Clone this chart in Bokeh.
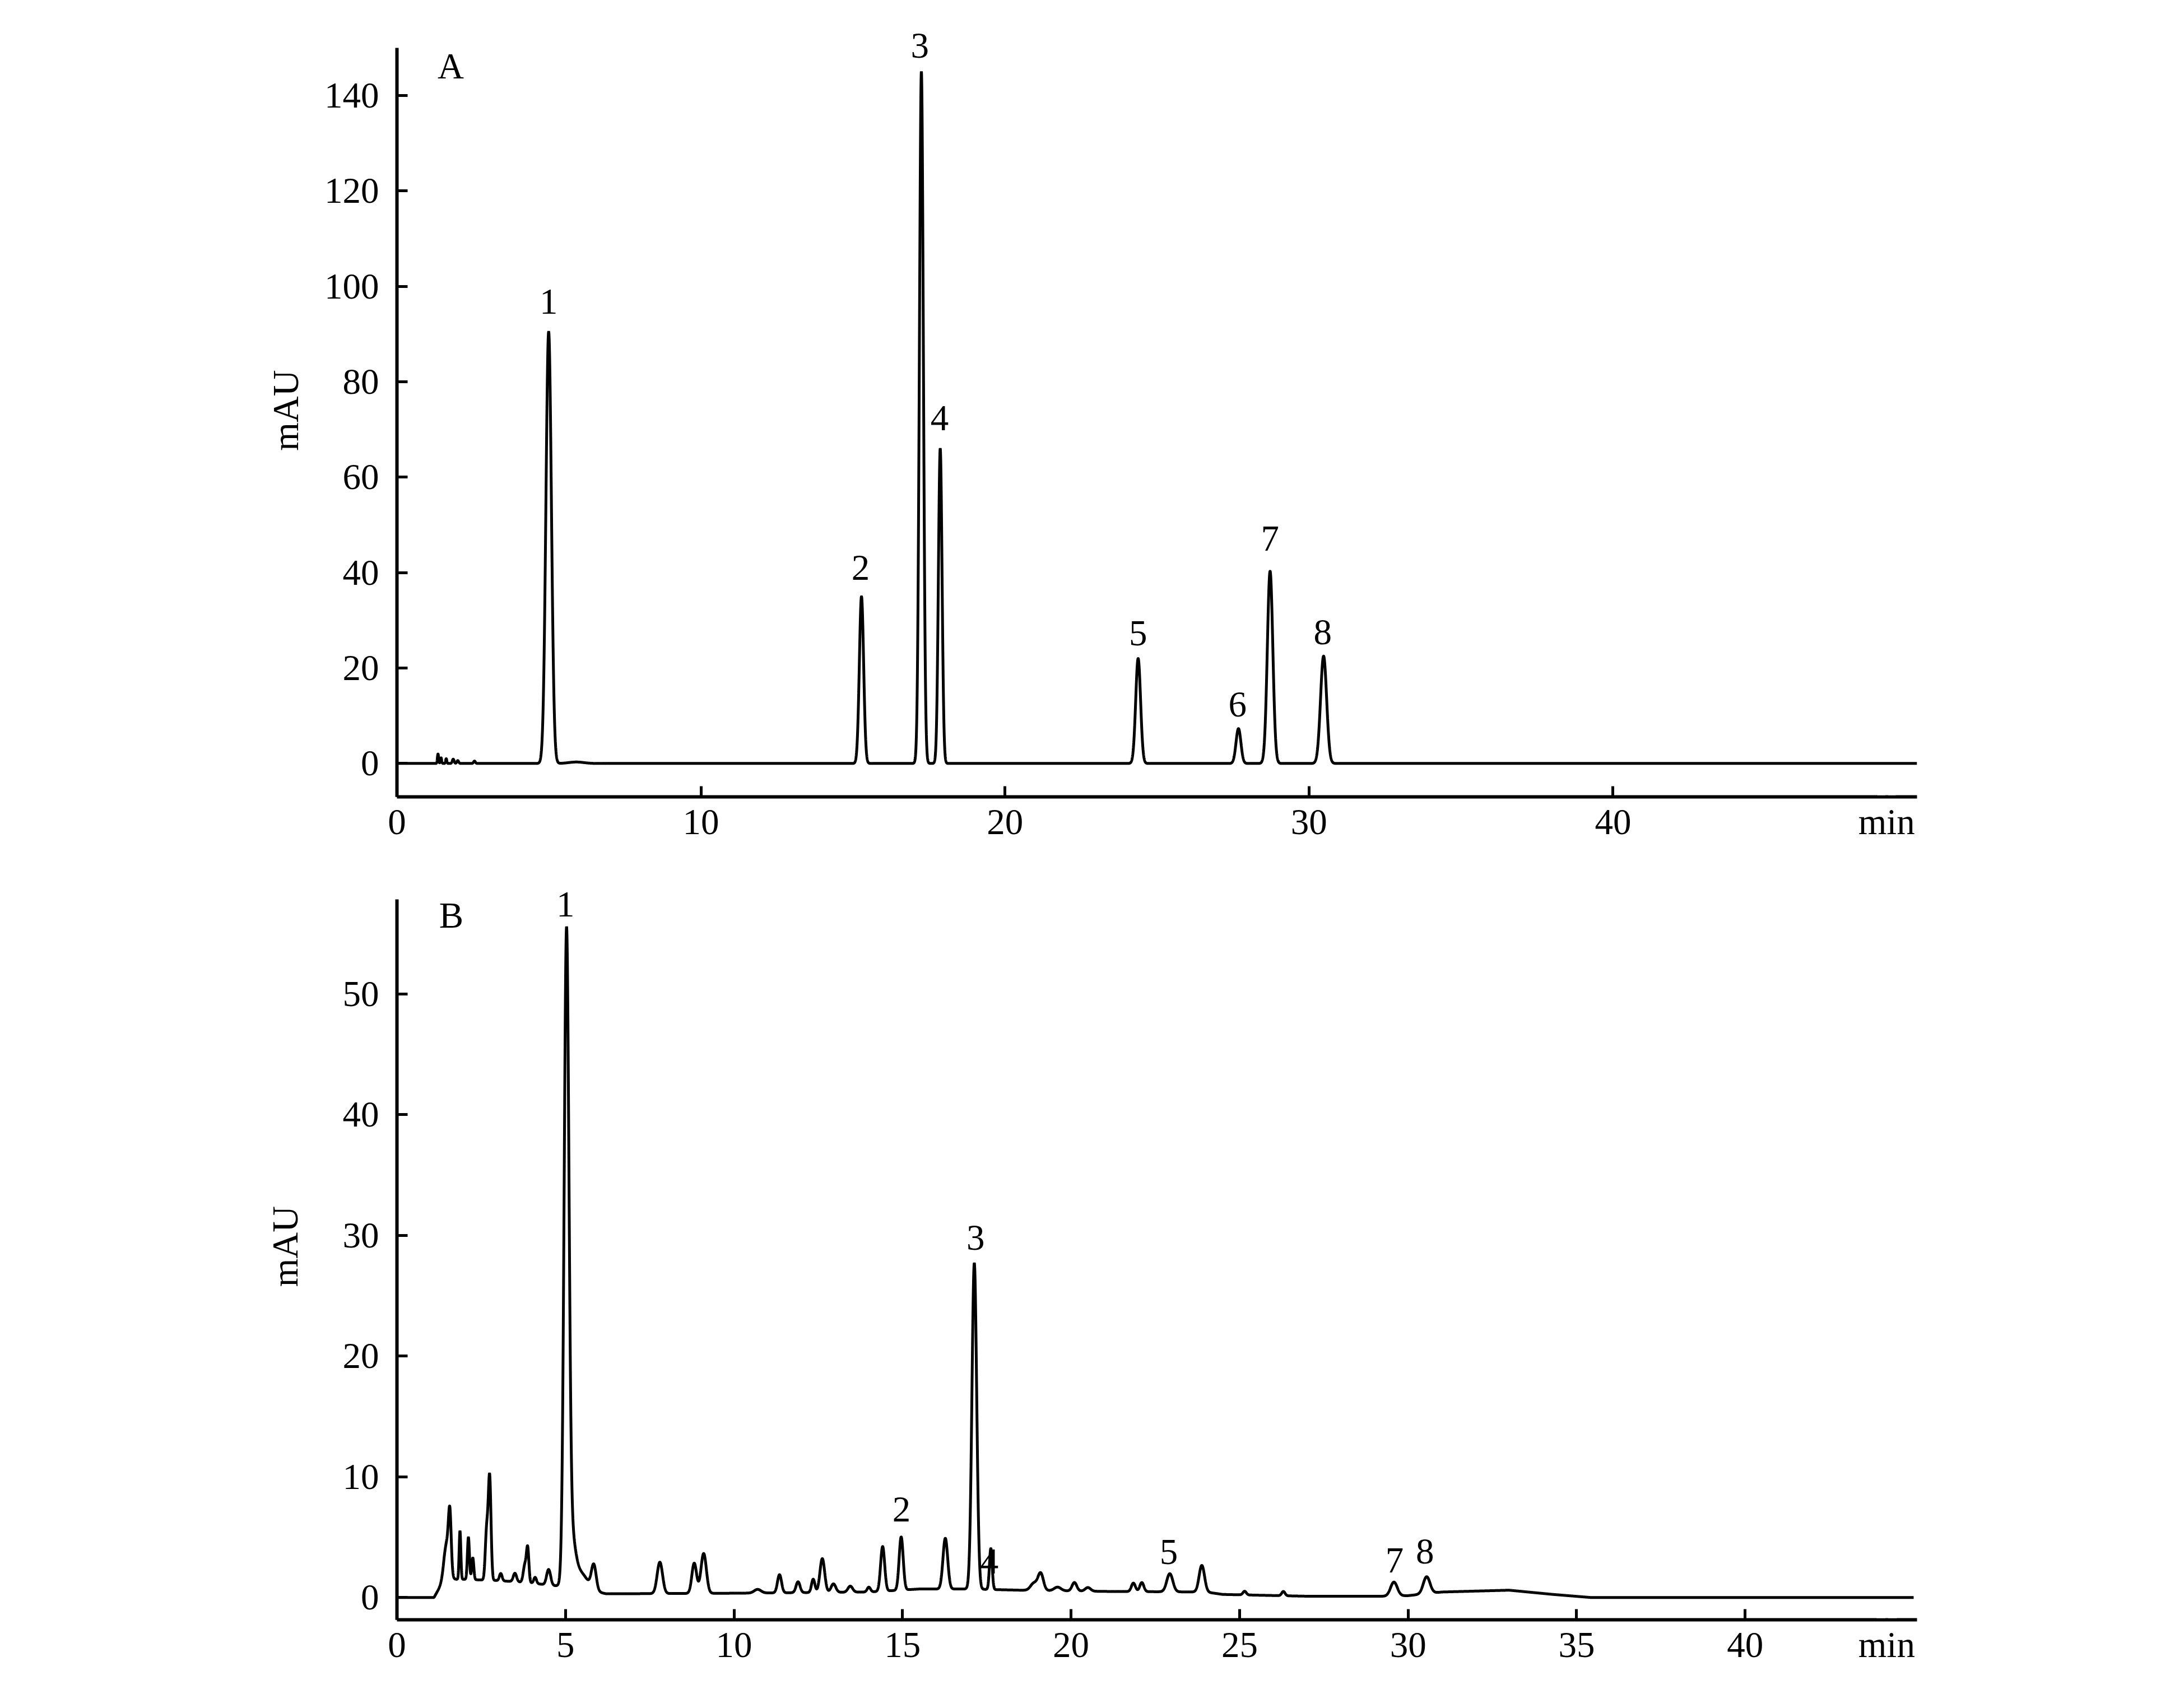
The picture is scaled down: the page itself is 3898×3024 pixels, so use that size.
import numpy as np
from bokeh.plotting import figure
from bokeh.models import Range1d, FixedTicker, Label, LabelSet, ColumnDataSource, BoxAnnotation
from bokeh.layouts import column
from bokeh.embed import file_html
from bokeh.resources import INLINE
from bokeh.core.properties import value

# ---------------- Data ----------------
# Panel A (standard mixture): peak retention time (min), height (mAU), width sigma (min)
A_peak_time   = [1.35, 1.45, 1.62, 1.85, 2.00, 2.55, 4.99, 5.90, 15.28, 17.25, 17.87, 24.38, 27.68, 28.72, 30.48]
A_peak_height = [2.0,  1.2,  1.0,  0.9,  0.6,  0.5,  90.5, 0.30, 35.0,  145.0, 66.0,  22.0,  7.3,   40.3,  22.5]
A_peak_sigma  = [0.02, 0.02, 0.02, 0.03, 0.03, 0.03, 0.09, 0.25, 0.07,  0.065, 0.06,  0.08,  0.08,  0.09,  0.10]

A_label_text = ["1", "2", "3", "4", "5", "6", "7", "8"]
A_label_time = [4.99, 15.25, 17.2, 17.85, 24.38, 27.65, 28.72, 30.45]
A_label_mau  = [94.3, 38.5, 147.9, 69.8, 24.8, 9.9, 44.6, 25.0]

A_xticks = [0, 10, 20, 30, 40]
A_yticks = [0, 20, 40, 60, 80, 100, 120, 140]
A_unit_pos = 49.0      # where the "min" unit label sits on the time axis

# Panel B (sample): baseline knots and peaks
B_base_time = [0, 1.1, 1.4, 2.0, 3.0, 4.0, 4.8, 6.2, 10.0, 14.0, 15.5, 17.0, 18.5, 21.0, 24.0, 24.5, 27.0, 29.3, 30.0, 31.0, 33.0, 34.3, 35.4, 45.0]
B_base_mau  = [0, 0.0, 1.5, 1.5, 1.4, 1.2, 0.9, 0.3, 0.35, 0.45, 0.7, 0.7, 0.6, 0.5, 0.45, 0.25, 0.1, 0.1, 0.15, 0.45, 0.6, 0.25, 0.0, 0.0]

B_peak_time   = [1.48, 1.57, 1.87, 2.12, 2.25, 2.66, 2.75, 3.08, 3.50, 3.80, 3.88, 4.10, 4.50,
                 5.03, 5.15, 5.40, 5.84, 7.80, 8.82, 9.10, 10.7, 11.35, 11.9, 12.35, 12.62, 12.95,
                 13.45, 14.0, 14.41, 14.96, 16.27, 17.13, 17.62, 18.9, 19.1, 19.6, 20.1, 20.5,
                 21.85, 22.1, 22.93, 23.88, 25.15, 26.3, 29.58, 30.55]
B_peak_height = [3.0, 4.4, 4.0, 3.5, 1.8, 4.0, 8.5, 0.6, 0.7, 1.5, 2.6, 0.5, 1.3,
                 51.8, 4.0, 1.5, 2.0, 2.6, 2.5, 3.3, 0.3, 1.5, 0.9, 1.1, 2.8, 0.7,
                 0.5, 0.4, 3.7, 4.4, 4.2, 27.0, 3.4, 0.6, 1.4, 0.3, 0.7, 0.3,
                 0.7, 0.75, 1.5, 2.2, 0.3, 0.35, 1.15, 1.4]
B_peak_sigma  = [0.08, 0.04, 0.025, 0.03, 0.03, 0.04, 0.04, 0.04, 0.05, 0.05, 0.035, 0.04, 0.06,
                 0.07, 0.12, 0.25, 0.07, 0.08, 0.07, 0.08, 0.10, 0.06, 0.06, 0.05, 0.07, 0.07,
                 0.07, 0.05, 0.06, 0.06, 0.07, 0.07, 0.04, 0.10, 0.08, 0.10, 0.07, 0.08,
                 0.06, 0.06, 0.09, 0.08, 0.05, 0.05, 0.10, 0.10]

B_label_text = ["1", "2", "3", "4", "5", "7", "8"]
B_label_time = [5.0, 14.97, 17.17, 17.58, 22.9, 29.6, 30.5]
B_label_mau  = [56.4, 6.3, 28.8, 1.96, 2.76, 2.07, 2.83]

B_xticks = [0, 5, 10, 15, 20, 25, 30, 35, 40]
B_yticks = [0, 10, 20, 30, 40, 50]
B_unit_pos = 44.2

FONT = "Liberation Serif"
FS = "65px"
TICK_IN = 19


def trace(t, times, heights, sigmas):
    y = np.zeros_like(t)
    for c, h, s in zip(times, heights, sigmas):
        y += h * np.exp(-0.5 * ((t - c) / s) ** 2)
    return y


def make_fig(w, h, xr, yr, ybounds, borders, xticks, yticks, unit_pos, ylab_standoff):
    p = figure(width=w, height=h, x_range=Range1d(*xr), y_range=Range1d(*yr),
               output_backend="svg", toolbar_location=None,
               min_border_left=borders[0], min_border_right=borders[1],
               min_border_top=borders[2], min_border_bottom=borders[3])
    p.grid.visible = False
    p.outline_line_color = None
    p.background_fill_color = "white"
    p.border_fill_color = "white"
    p.xaxis.ticker = FixedTicker(ticks=list(xticks) + [unit_pos])
    p.xaxis.major_label_overrides = {unit_pos: "min"}
    p.yaxis.ticker = FixedTicker(ticks=yticks)
    p.yaxis.bounds = ybounds
    for ax in (p.xaxis[0], p.yaxis[0]):
        ax.axis_line_width = 6
        ax.axis_line_color = "black"
        ax.major_tick_line_width = 5
        ax.major_tick_line_color = "black"
        ax.major_tick_in = TICK_IN
        ax.major_tick_out = 0
        ax.minor_tick_line_color = None
        ax.major_label_text_font = FONT
        ax.major_label_text_font_size = FS
        ax.major_label_text_color = "black"
    p.xaxis.major_label_standoff = 8
    p.yaxis.major_label_standoff = 32
    p.yaxis.axis_label = "mAU"
    p.yaxis.axis_label_text_font = FONT
    p.yaxis.axis_label_text_font_size = FS
    p.yaxis.axis_label_text_font_style = "normal"
    p.yaxis.axis_label_text_color = "black"
    p.yaxis.axis_label_standoff = ylab_standoff
    # the unit label "min" carries no tick mark: mask it
    p.add_layout(BoxAnnotation(left=unit_pos - 0.3, right=unit_pos + 0.3,
                               bottom=3, bottom_units="screen", top=TICK_IN + 6, top_units="screen",
                               fill_color="white", fill_alpha=1.0, line_color=None, level="overlay"))
    return p


def add_text(p, x, y, txt, align="center"):
    p.add_layout(Label(x=x, y=y, text=txt, text_font=FONT, text_font_size=FS,
                       text_align=align, text_baseline="alphabetic", text_color="black"))


# ---------------- Panel A ----------------
tA = np.linspace(0, 50, 25001)
yA = trace(tA, A_peak_time, A_peak_height, A_peak_sigma)
pA = make_fig(3890, 1538, (0, 50), (-7, 155), (-7, 150), (708, 469, 42, 116),
              A_xticks, A_yticks, A_unit_pos, 30)
pA.line(tA, yA, line_color="black", line_width=5)
srcA = ColumnDataSource(dict(x=A_label_time, y=A_label_mau, t=A_label_text))
pA.add_layout(LabelSet(x="x", y="y", text="t", source=srcA, text_font=value(FONT),
                       text_font_size=value(FS), text_align="center", text_baseline="alphabetic",
                       text_color="black"))
add_text(pA, 1.77, 146.1, "A")

# ---------------- Panel B ----------------
tB = np.linspace(0, 45, 22501)
yB = np.interp(tB, B_base_time, B_base_mau) + trace(tB, B_peak_time, B_peak_height, B_peak_sigma)
pB = make_fig(3890, 1478, (0, 45.1), (-1.85, 60), (-1.85, 57.8), (708, 469, 20, 125),
              B_xticks, B_yticks, B_unit_pos, 64)
pB.line(tB, yB, line_color="black", line_width=5)
srcB = ColumnDataSource(dict(x=B_label_time, y=B_label_mau, t=B_label_text))
pB.add_layout(LabelSet(x="x", y="y", text="t", source=srcB, text_font=value(FONT),
                       text_font_size=value(FS), text_align="center", text_baseline="alphabetic",
                       text_color="black"))
add_text(pB, 1.61, 56.5, "B")

layout = column(pA, pB)
open("out.html", "w").write(file_html(layout, INLINE))
